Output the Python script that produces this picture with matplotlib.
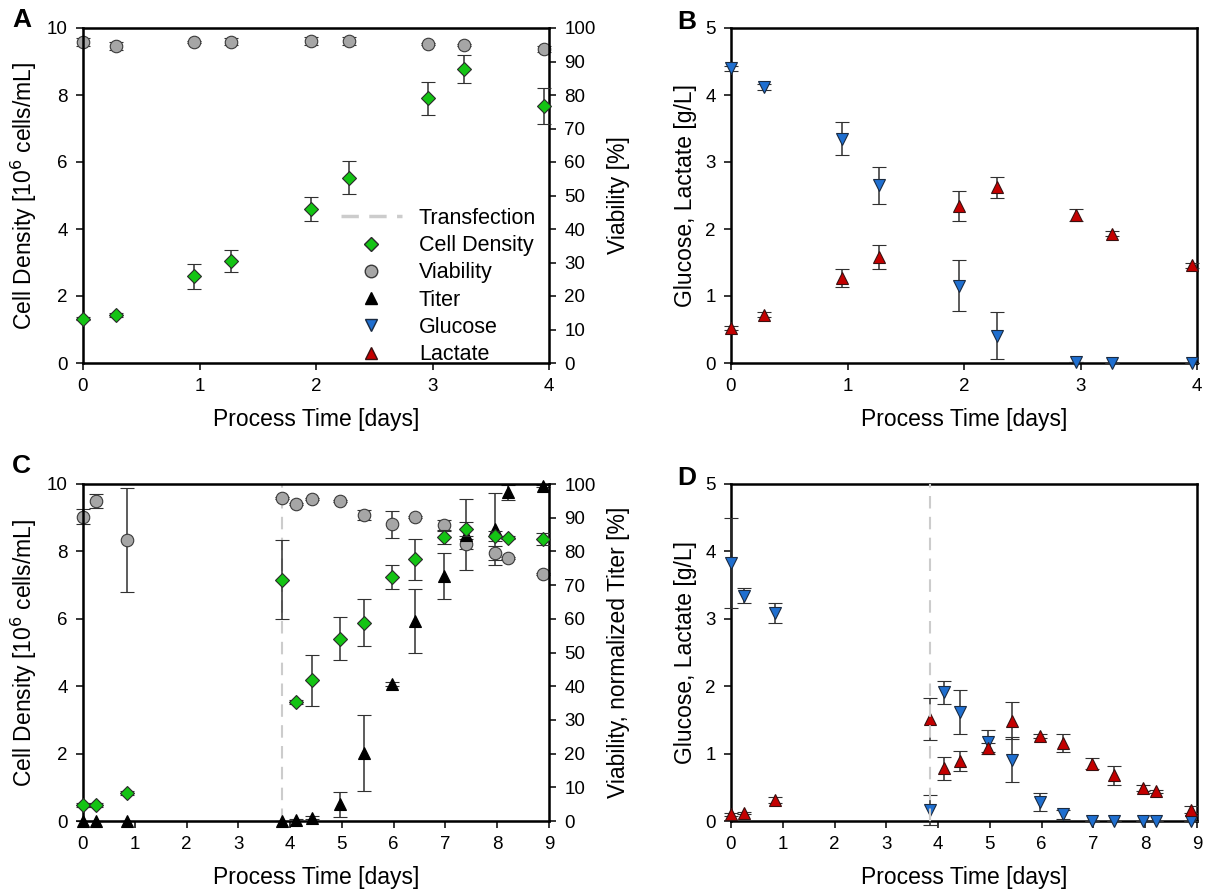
import numpy as np
import matplotlib
matplotlib.use("Agg")
import matplotlib.pyplot as plt
from matplotlib.lines import Line2D

plt.rcParams['font.family'] = ['Liberation Sans', 'DejaVu Sans']

# ---- panel A / B (no transfection, 4 days) ----
t_ab = [0, 0.28, 0.95, 1.27, 1.96, 2.28, 2.96, 3.27, 3.96]
cd_a = [1.32, 1.42, 2.59, 3.04, 4.59, 5.53, 7.90, 8.77, 7.67]
cd_a_err = [0.05, 0.06, 0.38, 0.32, 0.36, 0.50, 0.50, 0.41, 0.53]
via_a = [95.7, 94.7, 95.9, 95.9, 96.2, 96.2, 95.1, 94.9, 93.7]
via_a_err = [1.2, 1.2, 0.3, 1.0, 1.2, 1.2, 0.3, 0.3, 1.0]

glc_b = [4.40, 4.12, 3.35, 2.65, 1.15, 0.41, 0.01, 0.0, 0.0]
glc_b_err = [0.04, 0.04, 0.24, 0.28, 0.38, 0.35, 0.0, 0.0, 0.0]
lac_b = [0.52, 0.72, 1.27, 1.58, 2.34, 2.62, 2.21, 1.93, 1.46]
lac_b_err = [0.03, 0.04, 0.13, 0.18, 0.22, 0.15, 0.09, 0.04, 0.04]

# ---- panel C / D (transfection, 9 days) ----
t_cd = [0, 0.26, 0.85, 3.85, 4.12, 4.42, 4.97, 5.42, 5.97, 6.42, 6.97, 7.40, 7.96, 8.20, 8.88]
cd_c = [0.48, 0.48, 0.83, 7.16, 3.53, 4.17, 5.41, 5.89, 7.24, 7.76, 8.43, 8.67, 8.46, 8.41, 8.38]
cd_c_err = [0.05, 0.05, 0.06, 1.18, 0.06, 0.76, 0.64, 0.69, 0.37, 0.60, 0.20, 0.20, 0.15, 0.05, 0.18]
via_c = [90.3, 95.0, 83.4, 95.8, 94.2, 95.5, 94.9, 90.8, 88.0, 90.3, 87.7, 82.3, 79.5, 78.0, 73.3]
via_c_err = [2.3, 2.0, 15.3, 0.3, 0.3, 0.3, 0.3, 1.4, 4.1, 0.3, 1.5, 1.5, 2.0, 0.3, 0.3]
titer_c = [0, 0, 0, 0, 0.3, 1.0, 4.9, 20.3, 40.6, 59.4, 72.7, 85.0, 86.6, 97.6, 99.3]
titer_c_err = [0, 0, 0, 0, 0.2, 0.5, 3.8, 11.3, 0.5, 9.5, 6.9, 10.5, 10.7, 2.2, 0.3]

glc_d = [3.83, 3.34, 3.09, 0.16, 1.91, 1.62, 1.17, 0.91, 0.28, 0.10, 0.0, 0.0, 0.0, 0.0, 0.0]
glc_d_err = [0.67, 0.11, 0.15, 0.22, 0.17, 0.33, 0.18, 0.33, 0.13, 0.07, 0.0, 0.0, 0.0, 0.0, 0.0]
lac_d = [0.10, 0.12, 0.31, 1.51, 0.78, 0.89, 1.09, 1.49, 1.26, 1.16, 0.85, 0.68, 0.49, 0.44, 0.17]
lac_d_err = [0.02, 0.02, 0.04, 0.31, 0.17, 0.15, 0.06, 0.28, 0.03, 0.13, 0.08, 0.14, 0.05, 0.02, 0.05]

t_transfection = 3.85

# styles
sty_cd = dict(fmt='D', mfc='#14c414', mec='#2a2a2a', ms=7.5, mew=0.8)
sty_via = dict(fmt='o', mfc='#a6a6a6', mec='#3a3a3a', ms=9, mew=0.8)
sty_tit = dict(fmt='^', mfc='black', mec='black', ms=8, mew=0.8)
sty_glc = dict(fmt='v', mfc='#1f6fd0', mec='#1a2a40', ms=8.5, mew=0.8)
sty_lac = dict(fmt='^', mfc='#c40000', mec='#3a1010', ms=8.5, mew=0.8)
err_kw = dict(ecolor='#303030', elinewidth=1.1, capsize=5, capthick=1.1, clip_on=False)
tr_col = '#cccccc'

fig = plt.figure(figsize=(12.07, 8.93), dpi=100)
fig.patch.set_facecolor('white')

W, H = 1207.0, 893.0
def box(x0, y0, x1, y1):
    return [x0 / W, 1 - y1 / H, (x1 - x0) / W, (y1 - y0) / H]

axA = fig.add_axes(box(83, 28, 549, 363))
axB = fig.add_axes(box(731, 28, 1197, 363))
axC = fig.add_axes(box(83, 484, 549, 821))
axD = fig.add_axes(box(731, 484, 1197, 821))

tick_fs = 13.5
lab_fs = 16.5

def style(ax, xmax, ymax, ystep):
    ax.set_xlim(0, xmax)
    ax.set_ylim(0, ymax)
    ax.set_xticks(np.arange(0, xmax + 1, 1))
    ax.set_yticks(np.arange(0, ymax + 0.01, ystep))
    ax.tick_params(direction='out', length=5, width=1.1, labelsize=tick_fs, pad=6)
    for s in ax.spines.values():
        s.set_linewidth(1.8)
    ax.set_xlabel('Process Time [days]', fontsize=lab_fs, labelpad=9)

def right_axis(ax, label):
    ax2 = ax.twinx()
    ax2.set_ylim(0, 100)
    ax2.set_yticks(np.arange(0, 101, 10))
    ax2.tick_params(direction='out', length=5, width=1.1, labelsize=tick_fs, pad=6)
    ax2.set_ylabel(label, fontsize=lab_fs, labelpad=8)
    return ax2

# ---- A ----
style(axA, 4, 10, 2)
axA.set_ylabel('Cell Density [10$^6$ cells/mL]', fontsize=lab_fs, labelpad=6)
axA2 = right_axis(axA, 'Viability [%]')
axA2.errorbar(t_ab, via_a, yerr=via_a_err, **sty_via, **err_kw, zorder=3)
axA.set_zorder(axA2.get_zorder() + 1)
axA.patch.set_visible(False)
axA.errorbar(t_ab, cd_a, yerr=cd_a_err, **sty_cd, **err_kw, zorder=3)

handles = [
    Line2D([], [], color=tr_col, lw=2.5, dashes=(5, 3)),
    Line2D([], [], ls='none', marker='D', mfc=sty_cd['mfc'], mec=sty_cd['mec'], ms=7.5),
    Line2D([], [], ls='none', marker='o', mfc=sty_via['mfc'], mec=sty_via['mec'], ms=9),
    Line2D([], [], ls='none', marker='^', mfc='black', mec='black', ms=8),
    Line2D([], [], ls='none', marker='v', mfc=sty_glc['mfc'], mec=sty_glc['mec'], ms=8.5),
    Line2D([], [], ls='none', marker='^', mfc=sty_lac['mfc'], mec=sty_lac['mec'], ms=8.5),
]
labels = ['Transfection', 'Cell Density', 'Viability', 'Titer', 'Glucose', 'Lactate']
axA.legend(handles, labels, loc='lower right', bbox_to_anchor=(1.0, -0.045), frameon=False,
           fontsize=15.5, handlelength=2.8, handletextpad=0.8, labelspacing=0.29, borderaxespad=0.2)

# ---- B ----
style(axB, 4, 5, 1)
axB.set_ylabel('Glucose, Lactate [g/L]', fontsize=lab_fs, labelpad=6)
axB.errorbar(t_ab, glc_b, yerr=glc_b_err, **sty_glc, **err_kw, zorder=3)
axB.errorbar(t_ab, lac_b, yerr=lac_b_err, **sty_lac, **err_kw, zorder=3)

# ---- C ----
style(axC, 9, 10, 2)
axC.set_ylabel('Cell Density [10$^6$ cells/mL]', fontsize=lab_fs, labelpad=6)
axC2 = right_axis(axC, 'Viability, normalized Titer [%]')
axC2.axvline(t_transfection, color=tr_col, lw=1.5, dashes=(6, 4), zorder=1)
axC2.errorbar(t_cd, via_c, yerr=via_c_err, **sty_via, **err_kw, zorder=3)
axC2.errorbar(t_cd, titer_c, yerr=titer_c_err, **sty_tit, **err_kw, zorder=3)
axC.set_zorder(axC2.get_zorder() + 1)
axC.patch.set_visible(False)
axC.errorbar(t_cd, cd_c, yerr=cd_c_err, **sty_cd, **err_kw, zorder=3)

# ---- D ----
style(axD, 9, 5, 1)
axD.set_ylabel('Glucose, Lactate [g/L]', fontsize=lab_fs, labelpad=6)
axD.errorbar(t_cd, glc_d, yerr=glc_d_err, **sty_glc, **err_kw, zorder=3)
axD.errorbar(t_cd, lac_d, yerr=lac_d_err, **sty_lac, **err_kw, zorder=3)
axD.axvline(t_transfection, color=tr_col, lw=1.5, dashes=(6, 4), zorder=4)

for lab, x, y in [('A', 12, 20), ('B', 677, 22), ('C', 12, 466), ('D', 677, 478)]:
    fig.text(x / W, 1 - y / H, lab, fontsize=19, fontweight='bold', va='center', ha='left')

fig.savefig('out.png', dpi=100, facecolor='white')
